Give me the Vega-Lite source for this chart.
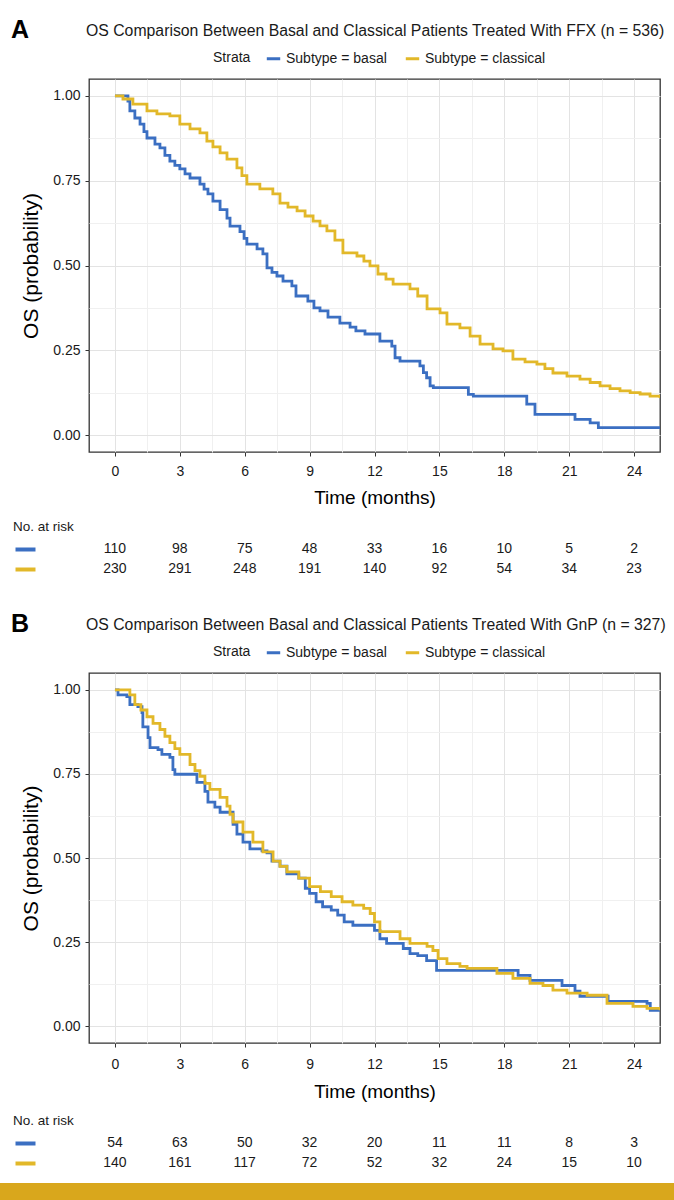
{
  "$schema": "https://vega.github.io/schema/vega-lite/v6.json",
  "background": "white",
  "padding": {"top": 17, "left": 0, "right": 0, "bottom": 0},
  "config": {
    "font": "Liberation Sans",
    "view": {"stroke": "#333333", "strokeWidth": 1.3},
    "title": {"fontSize": 15.8, "fontWeight": "normal", "anchor": "start", "frame": "group", "color": "#1a1a1a", "offset": 10, "dx": -3},
    "axis": {"labelColor": "#1a1a1a", "titleColor": "#000000", "tickColor": "#333333"}
  },
  "datasets": {
    "kmA": [
      {"t": 0, "s": 1, "strata": "Subtype = basal"},
      {"t": 0.6, "s": 0.985, "strata": "Subtype = basal"},
      {"t": 0.69, "s": 0.956, "strata": "Subtype = basal"},
      {"t": 0.92, "s": 0.935, "strata": "Subtype = basal"},
      {"t": 1.16, "s": 0.917, "strata": "Subtype = basal"},
      {"t": 1.34, "s": 0.895, "strata": "Subtype = basal"},
      {"t": 1.48, "s": 0.876, "strata": "Subtype = basal"},
      {"t": 1.85, "s": 0.858, "strata": "Subtype = basal"},
      {"t": 2.08, "s": 0.847, "strata": "Subtype = basal"},
      {"t": 2.31, "s": 0.825, "strata": "Subtype = basal"},
      {"t": 2.54, "s": 0.808, "strata": "Subtype = basal"},
      {"t": 2.77, "s": 0.795, "strata": "Subtype = basal"},
      {"t": 3.0, "s": 0.785, "strata": "Subtype = basal"},
      {"t": 3.24, "s": 0.77, "strata": "Subtype = basal"},
      {"t": 3.47, "s": 0.758, "strata": "Subtype = basal"},
      {"t": 3.93, "s": 0.74, "strata": "Subtype = basal"},
      {"t": 4.12, "s": 0.725, "strata": "Subtype = basal"},
      {"t": 4.3, "s": 0.711, "strata": "Subtype = basal"},
      {"t": 4.53, "s": 0.69, "strata": "Subtype = basal"},
      {"t": 4.86, "s": 0.665, "strata": "Subtype = basal"},
      {"t": 5.18, "s": 0.64, "strata": "Subtype = basal"},
      {"t": 5.32, "s": 0.616, "strata": "Subtype = basal"},
      {"t": 5.78, "s": 0.6, "strata": "Subtype = basal"},
      {"t": 5.97, "s": 0.58, "strata": "Subtype = basal"},
      {"t": 6.1, "s": 0.563, "strata": "Subtype = basal"},
      {"t": 6.57, "s": 0.549, "strata": "Subtype = basal"},
      {"t": 6.84, "s": 0.534, "strata": "Subtype = basal"},
      {"t": 7.03, "s": 0.493, "strata": "Subtype = basal"},
      {"t": 7.26, "s": 0.48, "strata": "Subtype = basal"},
      {"t": 7.49, "s": 0.469, "strata": "Subtype = basal"},
      {"t": 7.77, "s": 0.454, "strata": "Subtype = basal"},
      {"t": 8.18, "s": 0.44, "strata": "Subtype = basal"},
      {"t": 8.37, "s": 0.41, "strata": "Subtype = basal"},
      {"t": 8.92, "s": 0.395, "strata": "Subtype = basal"},
      {"t": 9.2, "s": 0.375, "strata": "Subtype = basal"},
      {"t": 9.48, "s": 0.366, "strata": "Subtype = basal"},
      {"t": 9.85, "s": 0.348, "strata": "Subtype = basal"},
      {"t": 10.4, "s": 0.33, "strata": "Subtype = basal"},
      {"t": 10.87, "s": 0.318, "strata": "Subtype = basal"},
      {"t": 11.14, "s": 0.307, "strata": "Subtype = basal"},
      {"t": 11.56, "s": 0.298, "strata": "Subtype = basal"},
      {"t": 12.25, "s": 0.277, "strata": "Subtype = basal"},
      {"t": 12.8, "s": 0.262, "strata": "Subtype = basal"},
      {"t": 12.95, "s": 0.228, "strata": "Subtype = basal"},
      {"t": 13.18, "s": 0.218, "strata": "Subtype = basal"},
      {"t": 14.1, "s": 0.204, "strata": "Subtype = basal"},
      {"t": 14.26, "s": 0.184, "strata": "Subtype = basal"},
      {"t": 14.41, "s": 0.169, "strata": "Subtype = basal"},
      {"t": 14.57, "s": 0.145, "strata": "Subtype = basal"},
      {"t": 14.72, "s": 0.14, "strata": "Subtype = basal"},
      {"t": 16.34, "s": 0.12, "strata": "Subtype = basal"},
      {"t": 16.57, "s": 0.115, "strata": "Subtype = basal"},
      {"t": 19.04, "s": 0.091, "strata": "Subtype = basal"},
      {"t": 19.42, "s": 0.061, "strata": "Subtype = basal"},
      {"t": 21.27, "s": 0.046, "strata": "Subtype = basal"},
      {"t": 21.97, "s": 0.036, "strata": "Subtype = basal"},
      {"t": 22.35, "s": 0.022, "strata": "Subtype = basal"},
      {"t": 25.2, "s": 0.022, "strata": "Subtype = basal"},
      {"t": 0, "s": 1, "strata": "Subtype = classical"},
      {"t": 0.37, "s": 0.991, "strata": "Subtype = classical"},
      {"t": 0.83, "s": 0.976, "strata": "Subtype = classical"},
      {"t": 1.48, "s": 0.956, "strata": "Subtype = classical"},
      {"t": 1.94, "s": 0.947, "strata": "Subtype = classical"},
      {"t": 2.54, "s": 0.941, "strata": "Subtype = classical"},
      {"t": 3.0, "s": 0.917, "strata": "Subtype = classical"},
      {"t": 3.47, "s": 0.903, "strata": "Subtype = classical"},
      {"t": 3.93, "s": 0.891, "strata": "Subtype = classical"},
      {"t": 4.25, "s": 0.867, "strata": "Subtype = classical"},
      {"t": 4.53, "s": 0.85, "strata": "Subtype = classical"},
      {"t": 4.86, "s": 0.832, "strata": "Subtype = classical"},
      {"t": 5.18, "s": 0.814, "strata": "Subtype = classical"},
      {"t": 5.64, "s": 0.788, "strata": "Subtype = classical"},
      {"t": 5.87, "s": 0.765, "strata": "Subtype = classical"},
      {"t": 6.1, "s": 0.74, "strata": "Subtype = classical"},
      {"t": 6.7, "s": 0.726, "strata": "Subtype = classical"},
      {"t": 7.3, "s": 0.711, "strata": "Subtype = classical"},
      {"t": 7.63, "s": 0.684, "strata": "Subtype = classical"},
      {"t": 8.0, "s": 0.672, "strata": "Subtype = classical"},
      {"t": 8.42, "s": 0.661, "strata": "Subtype = classical"},
      {"t": 8.79, "s": 0.646, "strata": "Subtype = classical"},
      {"t": 9.16, "s": 0.631, "strata": "Subtype = classical"},
      {"t": 9.48, "s": 0.617, "strata": "Subtype = classical"},
      {"t": 9.8, "s": 0.602, "strata": "Subtype = classical"},
      {"t": 10.17, "s": 0.575, "strata": "Subtype = classical"},
      {"t": 10.54, "s": 0.537, "strata": "Subtype = classical"},
      {"t": 11.19, "s": 0.528, "strata": "Subtype = classical"},
      {"t": 11.51, "s": 0.513, "strata": "Subtype = classical"},
      {"t": 11.79, "s": 0.499, "strata": "Subtype = classical"},
      {"t": 12.16, "s": 0.475, "strata": "Subtype = classical"},
      {"t": 12.53, "s": 0.46, "strata": "Subtype = classical"},
      {"t": 12.86, "s": 0.445, "strata": "Subtype = classical"},
      {"t": 13.64, "s": 0.431, "strata": "Subtype = classical"},
      {"t": 14.0, "s": 0.41, "strata": "Subtype = classical"},
      {"t": 14.43, "s": 0.372, "strata": "Subtype = classical"},
      {"t": 15.03, "s": 0.36, "strata": "Subtype = classical"},
      {"t": 15.35, "s": 0.327, "strata": "Subtype = classical"},
      {"t": 15.95, "s": 0.316, "strata": "Subtype = classical"},
      {"t": 16.42, "s": 0.292, "strata": "Subtype = classical"},
      {"t": 16.88, "s": 0.268, "strata": "Subtype = classical"},
      {"t": 17.48, "s": 0.254, "strata": "Subtype = classical"},
      {"t": 17.94, "s": 0.248, "strata": "Subtype = classical"},
      {"t": 18.4, "s": 0.224, "strata": "Subtype = classical"},
      {"t": 18.96, "s": 0.216, "strata": "Subtype = classical"},
      {"t": 19.51, "s": 0.209, "strata": "Subtype = classical"},
      {"t": 19.88, "s": 0.196, "strata": "Subtype = classical"},
      {"t": 20.25, "s": 0.183, "strata": "Subtype = classical"},
      {"t": 20.9, "s": 0.174, "strata": "Subtype = classical"},
      {"t": 21.5, "s": 0.165, "strata": "Subtype = classical"},
      {"t": 21.97, "s": 0.155, "strata": "Subtype = classical"},
      {"t": 22.43, "s": 0.145, "strata": "Subtype = classical"},
      {"t": 22.89, "s": 0.137, "strata": "Subtype = classical"},
      {"t": 23.35, "s": 0.13, "strata": "Subtype = classical"},
      {"t": 23.82, "s": 0.125, "strata": "Subtype = classical"},
      {"t": 24.28, "s": 0.121, "strata": "Subtype = classical"},
      {"t": 24.74, "s": 0.115, "strata": "Subtype = classical"},
      {"t": 25.2, "s": 0.109, "strata": "Subtype = classical"}
    ],
    "kmB": [
      {"t": 0, "s": 1, "strata": "Subtype = basal"},
      {"t": 0.14, "s": 0.985, "strata": "Subtype = basal"},
      {"t": 0.55, "s": 0.98, "strata": "Subtype = basal"},
      {"t": 0.69, "s": 0.956, "strata": "Subtype = basal"},
      {"t": 1.06, "s": 0.95, "strata": "Subtype = basal"},
      {"t": 1.25, "s": 0.932, "strata": "Subtype = basal"},
      {"t": 1.29, "s": 0.89, "strata": "Subtype = basal"},
      {"t": 1.53, "s": 0.858, "strata": "Subtype = basal"},
      {"t": 1.62, "s": 0.828, "strata": "Subtype = basal"},
      {"t": 1.99, "s": 0.822, "strata": "Subtype = basal"},
      {"t": 2.17, "s": 0.808, "strata": "Subtype = basal"},
      {"t": 2.54, "s": 0.799, "strata": "Subtype = basal"},
      {"t": 2.68, "s": 0.763, "strata": "Subtype = basal"},
      {"t": 2.77, "s": 0.749, "strata": "Subtype = basal"},
      {"t": 3.79, "s": 0.725, "strata": "Subtype = basal"},
      {"t": 4.16, "s": 0.698, "strata": "Subtype = basal"},
      {"t": 4.3, "s": 0.666, "strata": "Subtype = basal"},
      {"t": 4.62, "s": 0.651, "strata": "Subtype = basal"},
      {"t": 4.86, "s": 0.636, "strata": "Subtype = basal"},
      {"t": 5.46, "s": 0.6, "strata": "Subtype = basal"},
      {"t": 5.64, "s": 0.571, "strata": "Subtype = basal"},
      {"t": 5.92, "s": 0.547, "strata": "Subtype = basal"},
      {"t": 6.24, "s": 0.527, "strata": "Subtype = basal"},
      {"t": 6.8, "s": 0.521, "strata": "Subtype = basal"},
      {"t": 7.03, "s": 0.515, "strata": "Subtype = basal"},
      {"t": 7.26, "s": 0.491, "strata": "Subtype = basal"},
      {"t": 7.63, "s": 0.476, "strata": "Subtype = basal"},
      {"t": 7.95, "s": 0.453, "strata": "Subtype = basal"},
      {"t": 8.5, "s": 0.44, "strata": "Subtype = basal"},
      {"t": 8.8, "s": 0.41, "strata": "Subtype = basal"},
      {"t": 9.0, "s": 0.395, "strata": "Subtype = basal"},
      {"t": 9.3, "s": 0.37, "strata": "Subtype = basal"},
      {"t": 9.6, "s": 0.355, "strata": "Subtype = basal"},
      {"t": 10.0, "s": 0.345, "strata": "Subtype = basal"},
      {"t": 10.3, "s": 0.33, "strata": "Subtype = basal"},
      {"t": 10.6, "s": 0.31, "strata": "Subtype = basal"},
      {"t": 11.0, "s": 0.3, "strata": "Subtype = basal"},
      {"t": 12.0, "s": 0.285, "strata": "Subtype = basal"},
      {"t": 12.25, "s": 0.26, "strata": "Subtype = basal"},
      {"t": 12.56, "s": 0.246, "strata": "Subtype = basal"},
      {"t": 13.33, "s": 0.231, "strata": "Subtype = basal"},
      {"t": 13.64, "s": 0.216, "strata": "Subtype = basal"},
      {"t": 14.0, "s": 0.21, "strata": "Subtype = basal"},
      {"t": 14.41, "s": 0.195, "strata": "Subtype = basal"},
      {"t": 14.87, "s": 0.166, "strata": "Subtype = basal"},
      {"t": 18.64, "s": 0.151, "strata": "Subtype = basal"},
      {"t": 19.19, "s": 0.136, "strata": "Subtype = basal"},
      {"t": 20.67, "s": 0.121, "strata": "Subtype = basal"},
      {"t": 21.27, "s": 0.104, "strata": "Subtype = basal"},
      {"t": 21.5, "s": 0.089, "strata": "Subtype = basal"},
      {"t": 22.8, "s": 0.074, "strata": "Subtype = basal"},
      {"t": 24.6, "s": 0.068, "strata": "Subtype = basal"},
      {"t": 24.75, "s": 0.047, "strata": "Subtype = basal"},
      {"t": 25.2, "s": 0.045, "strata": "Subtype = basal"},
      {"t": 0, "s": 1, "strata": "Subtype = classical"},
      {"t": 0.69, "s": 0.985, "strata": "Subtype = classical"},
      {"t": 0.92, "s": 0.956, "strata": "Subtype = classical"},
      {"t": 1.2, "s": 0.94, "strata": "Subtype = classical"},
      {"t": 1.48, "s": 0.92, "strata": "Subtype = classical"},
      {"t": 1.76, "s": 0.9, "strata": "Subtype = classical"},
      {"t": 2.08, "s": 0.882, "strata": "Subtype = classical"},
      {"t": 2.31, "s": 0.862, "strata": "Subtype = classical"},
      {"t": 2.54, "s": 0.843, "strata": "Subtype = classical"},
      {"t": 2.77, "s": 0.825, "strata": "Subtype = classical"},
      {"t": 3.0, "s": 0.808, "strata": "Subtype = classical"},
      {"t": 3.47, "s": 0.778, "strata": "Subtype = classical"},
      {"t": 3.7, "s": 0.76, "strata": "Subtype = classical"},
      {"t": 3.93, "s": 0.743, "strata": "Subtype = classical"},
      {"t": 4.16, "s": 0.722, "strata": "Subtype = classical"},
      {"t": 4.39, "s": 0.704, "strata": "Subtype = classical"},
      {"t": 4.86, "s": 0.68, "strata": "Subtype = classical"},
      {"t": 5.18, "s": 0.654, "strata": "Subtype = classical"},
      {"t": 5.32, "s": 0.63, "strata": "Subtype = classical"},
      {"t": 5.46, "s": 0.607, "strata": "Subtype = classical"},
      {"t": 5.92, "s": 0.577, "strata": "Subtype = classical"},
      {"t": 6.38, "s": 0.547, "strata": "Subtype = classical"},
      {"t": 6.84, "s": 0.518, "strata": "Subtype = classical"},
      {"t": 7.31, "s": 0.491, "strata": "Subtype = classical"},
      {"t": 7.63, "s": 0.475, "strata": "Subtype = classical"},
      {"t": 7.95, "s": 0.459, "strata": "Subtype = classical"},
      {"t": 8.5, "s": 0.44, "strata": "Subtype = classical"},
      {"t": 9.0, "s": 0.415, "strata": "Subtype = classical"},
      {"t": 9.5, "s": 0.4, "strata": "Subtype = classical"},
      {"t": 10.0, "s": 0.385, "strata": "Subtype = classical"},
      {"t": 10.5, "s": 0.37, "strata": "Subtype = classical"},
      {"t": 11.0, "s": 0.36, "strata": "Subtype = classical"},
      {"t": 11.5, "s": 0.35, "strata": "Subtype = classical"},
      {"t": 11.8, "s": 0.335, "strata": "Subtype = classical"},
      {"t": 12.0, "s": 0.31, "strata": "Subtype = classical"},
      {"t": 12.25, "s": 0.281, "strata": "Subtype = classical"},
      {"t": 13.18, "s": 0.26, "strata": "Subtype = classical"},
      {"t": 13.64, "s": 0.246, "strata": "Subtype = classical"},
      {"t": 14.43, "s": 0.237, "strata": "Subtype = classical"},
      {"t": 14.7, "s": 0.225, "strata": "Subtype = classical"},
      {"t": 14.94, "s": 0.201, "strata": "Subtype = classical"},
      {"t": 15.35, "s": 0.186, "strata": "Subtype = classical"},
      {"t": 15.95, "s": 0.178, "strata": "Subtype = classical"},
      {"t": 16.28, "s": 0.172, "strata": "Subtype = classical"},
      {"t": 17.66, "s": 0.157, "strata": "Subtype = classical"},
      {"t": 18.4, "s": 0.142, "strata": "Subtype = classical"},
      {"t": 19.19, "s": 0.127, "strata": "Subtype = classical"},
      {"t": 19.79, "s": 0.121, "strata": "Subtype = classical"},
      {"t": 20.25, "s": 0.107, "strata": "Subtype = classical"},
      {"t": 20.9, "s": 0.098, "strata": "Subtype = classical"},
      {"t": 21.83, "s": 0.092, "strata": "Subtype = classical"},
      {"t": 22.75, "s": 0.068, "strata": "Subtype = classical"},
      {"t": 23.95, "s": 0.059, "strata": "Subtype = classical"},
      {"t": 24.6, "s": 0.053, "strata": "Subtype = classical"},
      {"t": 25.2, "s": 0.047, "strata": "Subtype = classical"}
    ],
    "riskA": [
      {"t": 0, "n": 110, "strata": "Subtype = basal"},
      {"t": 3, "n": 98, "strata": "Subtype = basal"},
      {"t": 6, "n": 75, "strata": "Subtype = basal"},
      {"t": 9, "n": 48, "strata": "Subtype = basal"},
      {"t": 12, "n": 33, "strata": "Subtype = basal"},
      {"t": 15, "n": 16, "strata": "Subtype = basal"},
      {"t": 18, "n": 10, "strata": "Subtype = basal"},
      {"t": 21, "n": 5, "strata": "Subtype = basal"},
      {"t": 24, "n": 2, "strata": "Subtype = basal"},
      {"t": 0, "n": 230, "strata": "Subtype = classical"},
      {"t": 3, "n": 291, "strata": "Subtype = classical"},
      {"t": 6, "n": 248, "strata": "Subtype = classical"},
      {"t": 9, "n": 191, "strata": "Subtype = classical"},
      {"t": 12, "n": 140, "strata": "Subtype = classical"},
      {"t": 15, "n": 92, "strata": "Subtype = classical"},
      {"t": 18, "n": 54, "strata": "Subtype = classical"},
      {"t": 21, "n": 34, "strata": "Subtype = classical"},
      {"t": 24, "n": 23, "strata": "Subtype = classical"}
    ],
    "riskB": [
      {"t": 0, "n": 54, "strata": "Subtype = basal"},
      {"t": 3, "n": 63, "strata": "Subtype = basal"},
      {"t": 6, "n": 50, "strata": "Subtype = basal"},
      {"t": 9, "n": 32, "strata": "Subtype = basal"},
      {"t": 12, "n": 20, "strata": "Subtype = basal"},
      {"t": 15, "n": 11, "strata": "Subtype = basal"},
      {"t": 18, "n": 11, "strata": "Subtype = basal"},
      {"t": 21, "n": 8, "strata": "Subtype = basal"},
      {"t": 24, "n": 3, "strata": "Subtype = basal"},
      {"t": 0, "n": 140, "strata": "Subtype = classical"},
      {"t": 3, "n": 161, "strata": "Subtype = classical"},
      {"t": 6, "n": 117, "strata": "Subtype = classical"},
      {"t": 9, "n": 72, "strata": "Subtype = classical"},
      {"t": 12, "n": 52, "strata": "Subtype = classical"},
      {"t": 15, "n": 32, "strata": "Subtype = classical"},
      {"t": 18, "n": 24, "strata": "Subtype = classical"},
      {"t": 21, "n": 15, "strata": "Subtype = classical"},
      {"t": 24, "n": 10, "strata": "Subtype = classical"}
    ]
  },
  "spacing": 10,
  "resolve": {"scale": {"color": "independent"}, "legend": {"color": "independent"}},
  "vconcat": [
    {
      "spacing": 10,
      "resolve": {"scale": {"color": "independent"}, "legend": {"color": "independent"}},
      "hconcat": [
        {"width": 1, "height": 1, "data": {"values": []}, "mark": "point", "encoding": {}, "view": {"stroke": null}},
        {
          "spacing": 32,
          "resolve": {"scale": {"color": "independent"}, "legend": {"color": "independent"}},
          "vconcat": [
            {
              "title": {"text": "A", "anchor": "start", "frame": "bounds", "fontSize": 25, "fontWeight": "bold", "offset": -20, "dx": -2, "color": "#000000"},
              "spacing": 11,
              "resolve": {"scale": {"color": "independent"}, "legend": {"color": "independent"}},
              "vconcat": [
                {
                  "width": 571, "height": 373,
                  "title": {"text": "OS Comparison Between Basal and Classical Patients Treated With FFX (n = 536)"},
                  "data": {"name": "kmA"},
                  "mark": {"type": "line", "interpolate": "step-after", "strokeWidth": 2.8, "clip": true},
                  "encoding": {
                    "x": {"field": "t", "type": "quantitative", "scale": {"domain": [-1.2, 25.2], "nice": false, "zero": false},
                      "axis": {"values": [0, 1.5, 3, 4.5, 6, 7.5, 9, 10.5, 12, 13.5, 15, 16.5, 18, 19.5, 21, 22.5, 24],
                        "labelExpr": "datum.value % 3 === 0 ? format(datum.value, 'd') : ''",
                        "title": "Time (months)", "grid": true,
                        "gridColor": {"condition": {"test": "datum.value % 3 === 0", "value": "#e3e3e3"}, "value": "#f0f0f0"},
                        "tickOpacity": {"condition": {"test": "datum.value % 3 === 0", "value": 1}, "value": 0},
                        "tickSize": 4, "domain": false, "labelFontSize": 14, "labelPadding": 8, "labelFlush": false, "labelOverlap": false,
                        "titleFontSize": 19, "titleFontWeight": "normal", "titlePadding": 10}},
                    "y": {"field": "s", "type": "quantitative", "scale": {"domain": [-0.05, 1.05], "nice": false, "zero": false},
                      "axis": {"values": [0, 0.125, 0.25, 0.375, 0.5, 0.625, 0.75, 0.875, 1],
                        "labelExpr": "(datum.value * 4) % 1 === 0 ? format(datum.value, '.2f') : ''",
                        "title": "OS (probability)", "grid": true,
                        "gridColor": {"condition": {"test": "(datum.value * 4) % 1 === 0", "value": "#e3e3e3"}, "value": "#f0f0f0"},
                        "tickOpacity": {"condition": {"test": "(datum.value * 4) % 1 === 0", "value": 1}, "value": 0},
                        "tickSize": 4, "domain": false, "labelFontSize": 14, "labelPadding": 5, "labelFlush": false, "labelOverlap": false,
                        "titleFontSize": 21, "titleFontWeight": "normal", "titlePadding": 11}},
                    "color": {"field": "strata", "type": "nominal",
                      "scale": {"domain": ["Subtype = basal", "Subtype = classical"], "range": ["#3b6fc2", "#e2b829"]},
                      "legend": {"orient": "none", "legendX": 124, "legendY": -29, "direction": "horizontal", "title": "Strata", "titleOrient": "left",
                        "titleFontSize": 14, "titleFontWeight": "normal", "titleColor": "#1a1a1a", "titlePadding": 14,
                        "labelFontSize": 14, "labelColor": "#1a1a1a", "symbolType": "stroke", "symbolStrokeWidth": 3, "symbolSize": 180,
                        "columnPadding": 12, "labelOffset": 4}}
                  }
                },
                {
                  "width": 571, "height": 40,
                  "title": {"text": "No. at risk", "anchor": "start", "frame": "bounds", "fontSize": 13.5, "offset": 6, "dx": 0},
                  "data": {"name": "riskA"},
                  "mark": {"type": "text", "fontSize": 14, "color": "#1a1a1a"},
                  "view": {"stroke": null},
                  "encoding": {
                    "x": {"field": "t", "type": "quantitative", "scale": {"domain": [-1.2, 25.2], "nice": false, "zero": false}, "axis": null},
                    "y": {"field": "strata", "type": "ordinal", "scale": {"type": "point", "domain": ["Subtype = basal", "Subtype = classical"], "padding": 0.5},
                      "axis": {"title": null, "labels": false, "domain": false, "grid": false, "offset": 54, "tickSize": 20, "tickWidth": 4,
                        "tickColor": {"condition": {"test": "datum.value === 'Subtype = basal'", "value": "#3b6fc2"}, "value": "#e2b829"}}},
                    "text": {"field": "n", "type": "quantitative"}
                  }
                }
              ]
            },
            {
              "title": {"text": "B", "anchor": "start", "frame": "bounds", "fontSize": 25, "fontWeight": "bold", "offset": -20, "dx": -2, "color": "#000000"},
              "spacing": 11,
              "resolve": {"scale": {"color": "independent"}, "legend": {"color": "independent"}},
              "vconcat": [
                {
                  "width": 571, "height": 370,
                  "title": {"text": "OS Comparison Between Basal and Classical Patients Treated With GnP (n = 327)"},
                  "data": {"name": "kmB"},
                  "mark": {"type": "line", "interpolate": "step-after", "strokeWidth": 2.8, "clip": true},
                  "encoding": {
                    "x": {"field": "t", "type": "quantitative", "scale": {"domain": [-1.2, 25.2], "nice": false, "zero": false},
                      "axis": {"values": [0, 1.5, 3, 4.5, 6, 7.5, 9, 10.5, 12, 13.5, 15, 16.5, 18, 19.5, 21, 22.5, 24],
                        "labelExpr": "datum.value % 3 === 0 ? format(datum.value, 'd') : ''",
                        "title": "Time (months)", "grid": true,
                        "gridColor": {"condition": {"test": "datum.value % 3 === 0", "value": "#e3e3e3"}, "value": "#f0f0f0"},
                        "tickOpacity": {"condition": {"test": "datum.value % 3 === 0", "value": 1}, "value": 0},
                        "tickSize": 4, "domain": false, "labelFontSize": 14, "labelPadding": 10, "labelFlush": false, "labelOverlap": false,
                        "titleFontSize": 19, "titleFontWeight": "normal", "titlePadding": 11}},
                    "y": {"field": "s", "type": "quantitative", "scale": {"domain": [-0.05, 1.05], "nice": false, "zero": false},
                      "axis": {"values": [0, 0.125, 0.25, 0.375, 0.5, 0.625, 0.75, 0.875, 1],
                        "labelExpr": "(datum.value * 4) % 1 === 0 ? format(datum.value, '.2f') : ''",
                        "title": "OS (probability)", "grid": true,
                        "gridColor": {"condition": {"test": "(datum.value * 4) % 1 === 0", "value": "#e3e3e3"}, "value": "#f0f0f0"},
                        "tickOpacity": {"condition": {"test": "(datum.value * 4) % 1 === 0", "value": 1}, "value": 0},
                        "tickSize": 4, "domain": false, "labelFontSize": 14, "labelPadding": 5, "labelFlush": false, "labelOverlap": false,
                        "titleFontSize": 21, "titleFontWeight": "normal", "titlePadding": 11}},
                    "color": {"field": "strata", "type": "nominal",
                      "scale": {"domain": ["Subtype = basal", "Subtype = classical"], "range": ["#3b6fc2", "#e2b829"]},
                      "legend": {"orient": "none", "legendX": 124, "legendY": -29, "direction": "horizontal", "title": "Strata", "titleOrient": "left",
                        "titleFontSize": 14, "titleFontWeight": "normal", "titleColor": "#1a1a1a", "titlePadding": 14,
                        "labelFontSize": 14, "labelColor": "#1a1a1a", "symbolType": "stroke", "symbolStrokeWidth": 3, "symbolSize": 180,
                        "columnPadding": 12, "labelOffset": 4}}
                  }
                },
                {
                  "width": 571, "height": 40,
                  "title": {"text": "No. at risk", "anchor": "start", "frame": "bounds", "fontSize": 13.5, "offset": 6, "dx": 0},
                  "data": {"name": "riskB"},
                  "mark": {"type": "text", "fontSize": 14, "color": "#1a1a1a"},
                  "view": {"stroke": null},
                  "encoding": {
                    "x": {"field": "t", "type": "quantitative", "scale": {"domain": [-1.2, 25.2], "nice": false, "zero": false}, "axis": null},
                    "y": {"field": "strata", "type": "ordinal", "scale": {"type": "point", "domain": ["Subtype = basal", "Subtype = classical"], "padding": 0.5},
                      "axis": {"title": null, "labels": false, "domain": false, "grid": false, "offset": 54, "tickSize": 20, "tickWidth": 4,
                        "tickColor": {"condition": {"test": "datum.value === 'Subtype = basal'", "value": "#3b6fc2"}, "value": "#e2b829"}}},
                    "text": {"field": "n", "type": "quantitative"}
                  }
                }
              ]
            }
          ]
        }
      ]
    },
    {"width": 674, "height": 20, "data": {"values": []}, "mark": "point", "encoding": {}, "view": {"fill": "#d9a71c", "stroke": null}}
  ]
}
